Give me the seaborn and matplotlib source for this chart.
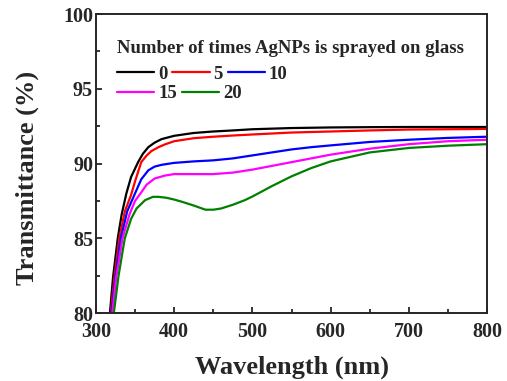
import pandas as pd
import seaborn as sns
import matplotlib.pyplot as plt
from matplotlib.ticker import MultipleLocator

# transmittance (%) vs wavelength (nm)
wl_0 = [315, 318, 322, 328, 333, 339, 345, 354, 360, 367, 375, 384, 400, 425, 450,
        475, 500, 550, 600, 650, 700, 750, 800]
t_0 = [78.3, 80.0, 82.4, 85.0, 86.6, 88.0, 89.1, 90.1, 90.65, 91.1, 91.4, 91.64, 91.86,
       92.05, 92.15, 92.22, 92.3, 92.38, 92.42, 92.44, 92.45, 92.45, 92.45]

wl_5 = [315, 319, 324, 330, 337, 345, 350, 358, 365, 371, 380, 388, 400, 425, 450,
        475, 500, 550, 600, 650, 700, 750, 800]
t_5 = [77.0, 80.0, 82.5, 85.0, 86.8, 87.9, 88.8, 90.1, 90.55, 90.84, 91.1, 91.28, 91.5,
       91.7, 91.8, 91.88, 91.95, 92.08, 92.15, 92.22, 92.28, 92.3, 92.32]

wl_10 = [315, 320, 325, 332, 340, 350, 358, 367, 375, 384, 400, 425, 450, 475, 500,
         525, 550, 575, 600, 650, 700, 750, 800]
t_10 = [76.5, 80.0, 82.4, 85.0, 86.8, 88.0, 88.95, 89.55, 89.8, 89.92, 90.05, 90.15, 90.22,
        90.35, 90.55, 90.75, 90.95, 91.1, 91.22, 91.45, 91.6, 91.72, 91.8]

wl_15 = [315, 321, 326, 334, 343, 350, 357, 365, 375, 388, 400, 425, 450, 475, 500,
         525, 550, 575, 600, 650, 700, 750, 800]
t_15 = [76.0, 80.0, 82.4, 85.0, 86.6, 87.5, 88.0, 88.6, 89.0, 89.2, 89.3, 89.3, 89.3,
        89.4, 89.6, 89.85, 90.1, 90.35, 90.6, 91.0, 91.3, 91.5, 91.6]

wl_20 = [315, 323, 329, 337, 345, 352, 363, 373, 380, 390, 400, 410, 425, 440, 450, 460,
         475, 490, 500, 525, 550, 575, 600, 650, 700, 750, 800]
t_20 = [75.0, 80.0, 82.5, 85.0, 86.3, 87.0, 87.56, 87.78, 87.78, 87.72, 87.6, 87.45, 87.2,
        86.92, 86.92, 87.0, 87.25, 87.55, 87.8, 88.5, 89.15, 89.7, 90.15, 90.75, 91.05,
        91.2, 91.3]

labels = ["0", "5", "10", "15", "20"]
colors = ["#000000", "#ff0000", "#0000ff", "#ff00ff", "#008000"]

frames = []
for lab, wl, vals in zip(labels, [wl_0, wl_5, wl_10, wl_15, wl_20],
                         [t_0, t_5, t_10, t_15, t_20]):
    frames.append(pd.DataFrame({"wl": wl, "T": vals, "n": lab}))
df = pd.concat(frames, ignore_index=True)

sns.set_style("ticks")
plt.rcParams['font.family'] = ['Liberation Serif', 'DejaVu Serif']
plt.rcParams['font.weight'] = 'bold'

fig = plt.figure(figsize=(5.07, 3.81), dpi=100)
ax = fig.add_axes([0.189, 0.178, 0.772, 0.785])

sns.lineplot(data=df, x="wl", y="T", hue="n", palette=dict(zip(labels, colors)),
             hue_order=labels, estimator=None, sort=False, linewidth=1.6,
             legend=True, ax=ax)

ax.set_xlim(300, 800)
ax.set_ylim(80, 100)
ax.xaxis.set_major_locator(MultipleLocator(100))
ax.xaxis.set_minor_locator(MultipleLocator(50))
ax.yaxis.set_major_locator(MultipleLocator(5))
ax.yaxis.set_minor_locator(MultipleLocator(2.5))
ax.tick_params(which='both', direction='in', top=False, right=False, width=1.3)
ax.tick_params(which='major', length=4.3, labelsize=14.5)
ax.tick_params(which='minor', length=2.8)
ax.tick_params(axis='x', which='major', pad=6)
ax.tick_params(axis='y', which='major', pad=2)
for lbl in ax.get_xticklabels() + ax.get_yticklabels():
    lbl.set_fontweight('bold')
for sp in ax.spines.values():
    sp.set_visible(True)
    sp.set_linewidth(1.4)

ax.set_xlabel("Wavelength (nm)", fontsize=19, fontweight='bold', labelpad=10)
ax.set_ylabel("Transmittance (%)", fontsize=19, fontweight='bold')
ax.yaxis.set_label_coords(-0.145, 0.452)

# legend laid out as two rows: 0 5 10 / 15 20
handles, _ = ax.get_legend_handles_labels()
common = dict(loc='upper left', frameon=False, prop={'weight': 'bold', 'size': 13.5},
              handlelength=2.0, handletextpad=0.2, columnspacing=0.25,
              borderpad=0, borderaxespad=0)
leg1 = ax.legend(handles[:3], labels[:3], ncol=3, bbox_to_anchor=(0.054, 0.915),
                 title="Number of times AgNPs is sprayed on glass",
                 title_fontproperties={'weight': 'bold', 'size': 13.5},
                 alignment='left', **common)
ax.add_artist(leg1)
ax.legend(handles[3:], labels[3:], ncol=2, bbox_to_anchor=(0.054, 0.762), **common)

fig.savefig("out.png", dpi=100)
